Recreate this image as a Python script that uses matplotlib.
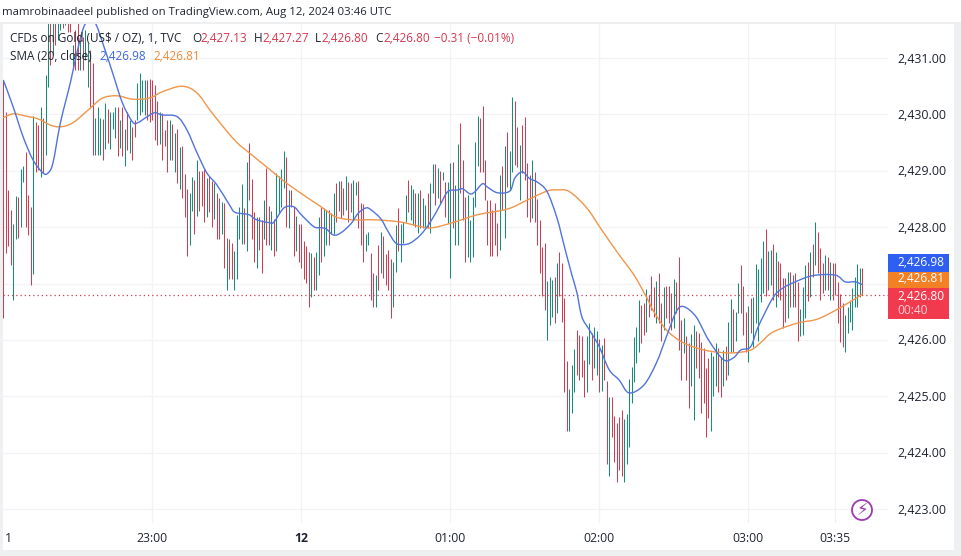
import matplotlib
matplotlib.use("Agg")
import matplotlib.pyplot as plt
from matplotlib.patches import Rectangle, Ellipse, PathPatch
from matplotlib.path import Path

W, H = 961, 556
FONT = "Open Sans"
plt.rcParams["font.family"] = [FONT, "DejaVu Sans"]

# ---- Data (minute bars; minute 0 = 22:00) ----
bar_high = [
2430.61,2430.04,2428.66,2428.31,2428.06,2428.55,2428.54,2429.03,2429.09,2429.34,
2428.57,2428.36,2429.97,2429.87,2429.81,2430.13,2429.94,2430.70,2431.70,2431.70,
2431.70,2431.70,2431.70,2431.70,2431.70,2431.70,2431.70,2431.70,2431.23,2431.50,
2431.70,2431.32,2431.37,2431.50,2431.27,2431.14,2430.91,2429.94,2430.13,2429.94,
2429.92,2430.20,2430.10,2430.04,2430.04,2430.13,2430.13,2429.90,2430.13,2429.74,
2430.04,2429.90,2429.78,2429.90,2430.56,2430.74,2430.61,2430.61,2430.61,2430.63,
2430.61,2430.52,2430.24,2430.04,2430.03,2429.72,2429.90,2429.90,2429.83,2429.67,
2429.74,2429.42,2429.44,2428.95,2428.68,2428.61,2428.89,2428.84,2429.19,2429.00,
2429.00,2429.03,2428.87,2428.91,2428.82,2428.79,2428.61,2428.52,2428.45,2428.43,
2427.81,2427.79,2427.72,2427.58,2428.22,2428.36,2428.77,2428.34,2429.16,2429.50,
2428.86,2428.27,2428.18,2428.18,2428.13,2428.48,2429.05,2428.38,2428.29,2428.15,
2428.96,2428.91,2429.03,2429.35,2429.25,2428.66,2428.66,2428.36,2428.20,2428.06,
2428.06,2427.76,2427.67,2427.56,2427.54,2427.47,2427.56,2428.18,2428.36,2428.34,
2428.31,2428.31,2428.25,2428.61,2428.79,2428.82,2428.82,2428.70,2428.91,2428.80,
2428.79,2428.84,2428.80,2428.82,2428.43,2428.41,2427.88,2427.92,2427.54,2427.19,
2427.15,2427.69,2427.92,2427.85,2427.53,2427.60,2427.44,2427.38,2428.04,2428.34,
2428.06,2428.09,2428.57,2428.84,2428.75,2428.68,2428.61,2428.61,2428.66,2428.52,
2428.40,2428.61,2428.79,2429.12,2429.12,2429.05,2429.00,2428.98,2428.80,2428.80,
2429.14,2429.16,2428.75,2429.48,2429.85,2429.19,2428.54,2428.57,2428.13,2428.54,
2429.51,2429.97,2429.94,2430.15,2429.19,2428.48,2428.48,2428.31,2428.43,2428.08,
2428.93,2429.09,2429.44,2429.69,2429.35,2430.31,2430.24,2429.78,2429.46,2429.81,
2429.96,2429.14,2428.93,2429.19,2428.98,2428.50,2428.13,2427.65,2427.72,2427.05,
2427.12,2427.07,2427.12,2427.37,2427.56,2427.37,2426.75,2425.63,2425.13,2425.56,
2425.84,2426.18,2426.09,2426.07,2425.65,2426.07,2426.30,2426.13,2426.23,2426.16,
2426.02,2425.91,2426.04,2425.27,2424.99,2424.99,2424.65,2424.53,2424.64,2424.76,
2424.60,2424.69,2425.31,2425.52,2426.05,2426.23,2426.71,2426.62,2426.66,2426.91,
2426.80,2427.14,2426.94,2427.05,2427.19,2426.66,2426.94,2426.96,2426.96,2426.83,
2427.08,2427.03,2427.47,2426.36,2426.39,2426.07,2425.95,2426.11,2426.27,2426.16,
2426.13,2425.97,2425.86,2425.51,2425.68,2425.79,2425.72,2425.95,2425.86,2425.70,
2425.82,2425.90,2426.32,2426.73,2426.55,2426.50,2427.01,2427.33,2426.96,2426.50,
2426.60,2426.75,2426.76,2427.35,2427.26,2427.46,2427.76,2427.97,2427.58,2427.60,
2427.70,2427.56,2427.40,2427.37,2427.10,2427.10,2427.21,2427.21,2427.15,2427.19,
2427.03,2426.55,2426.94,2427.33,2427.38,2427.56,2427.70,2428.09,2427.92,2427.63,
2427.37,2427.51,2427.47,2427.38,2427.37,2427.37,2427.03,2426.82,2426.66,2426.45,
2426.59,2426.71,2426.92,2427.12,2427.35,2427.28,2427.27]
bar_low = [
2426.39,2427.54,2427.67,2427.33,2426.71,2427.79,2427.81,2428.01,2428.80,2428.01,
2427.86,2426.98,2427.17,2428.98,2429.02,2428.89,2428.96,2429.28,2430.49,2430.88,
2431.05,2431.23,2431.32,2431.50,2431.53,2431.59,2431.46,2431.46,2430.82,2430.79,
2430.79,2430.79,2430.79,2430.97,2430.49,2430.11,2429.28,2429.28,2429.28,2429.28,
2429.19,2429.39,2429.50,2429.39,2429.74,2429.58,2429.26,2429.41,2429.26,2429.09,
2429.37,2429.32,2429.19,2429.60,2429.90,2429.99,2430.04,2429.99,2429.90,2429.87,
2429.90,2429.55,2429.46,2429.48,2429.19,2429.44,2428.98,2429.19,2429.19,2428.98,
2428.79,2428.68,2428.52,2428.18,2427.49,2427.69,2428.29,2427.88,2428.20,2428.29,
2428.38,2428.09,2428.18,2428.27,2428.01,2428.15,2427.79,2427.79,2427.88,2427.28,
2426.89,2427.08,2427.08,2426.89,2427.08,2427.79,2427.70,2427.70,2427.58,2428.48,
2427.79,2427.38,2427.28,2427.60,2427.19,2427.79,2427.69,2427.69,2427.60,2427.49,
2427.58,2428.25,2428.36,2428.70,2428.01,2427.99,2428.36,2427.49,2427.58,2427.38,
2427.28,2427.08,2427.01,2426.59,2426.76,2426.89,2426.89,2427.15,2427.38,2427.49,
2427.69,2427.69,2427.88,2427.88,2428.09,2428.29,2428.16,2428.22,2428.31,2428.09,
2428.27,2428.13,2428.57,2427.99,2427.69,2427.38,2427.58,2427.69,2426.71,2426.59,
2426.59,2426.89,2427.19,2427.10,2426.98,2426.89,2426.39,2426.59,2427.21,2427.58,
2427.38,2427.72,2428.09,2428.27,2428.13,2428.04,2428.01,2427.90,2427.99,2427.99,
2427.99,2427.99,2427.90,2428.61,2428.40,2428.52,2428.43,2428.84,2428.18,2428.08,
2427.10,2427.99,2427.69,2427.69,2428.61,2428.13,2427.38,2427.47,2427.38,2427.47,
2428.36,2429.09,2428.98,2428.98,2428.48,2427.69,2427.49,2427.49,2427.69,2427.49,
2427.60,2428.31,2427.81,2428.71,2428.66,2428.98,2429.10,2429.07,2428.48,2428.96,
2428.84,2428.18,2428.09,2428.16,2428.09,2427.69,2427.19,2426.78,2426.53,2426.00,
2426.27,2426.41,2426.30,2426.48,2426.78,2426.32,2425.08,2424.39,2424.39,2424.71,
2425.08,2425.38,2425.29,2425.35,2424.99,2425.08,2425.58,2425.29,2425.51,2425.38,
2425.08,2425.10,2425.29,2423.79,2423.59,2424.28,2423.84,2423.48,2423.70,2423.59,
2423.48,2423.79,2424.10,2424.88,2425.26,2425.59,2425.79,2425.95,2426.09,2426.14,
2426.41,2426.53,2426.41,2426.30,2426.30,2425.98,2426.18,2426.39,2426.30,2426.18,
2426.21,2426.48,2425.82,2425.29,2425.77,2425.29,2424.80,2425.19,2424.58,2425.51,
2425.33,2424.71,2424.88,2424.27,2424.62,2424.39,2425.01,2425.19,2425.08,2424.99,
2425.19,2425.29,2425.38,2425.79,2425.79,2425.98,2426.48,2426.48,2426.09,2425.79,
2425.61,2426.13,2425.88,2426.30,2425.98,2426.68,2426.83,2426.78,2426.89,2426.98,
2426.71,2426.59,2426.76,2426.71,2426.21,2426.32,2426.39,2426.59,2426.59,2426.59,
2425.98,2426.07,2426.09,2426.39,2426.69,2426.76,2427.12,2427.33,2427.19,2426.71,
2426.83,2426.89,2426.89,2426.71,2426.71,2426.80,2426.30,2425.97,2425.88,2425.79,
2426.13,2426.32,2426.18,2426.59,2426.59,2426.76,2426.80]
bar_dir = (
"rrrrggrggr" "rrgrrgrggr" "grggrgrrgr" "rgrggrrggg" "rgrgggrgrg"
"rgrrggggrr" "rrrgrrrgrg" "rgrrrggrgr" "rrgrrgrrgr" "grrggggrgr"
"rrgrrgrrgr" "ggggrgrrgr" "rrrrgrggrg" "grggrgrrgr" "rggrrrggrr"
"grgrrrrggr" "gggrggrgrg" "grggrgrgrg" "grggrrrggg" "ggrrrrrrrr"
"grgrggrrgr" "rrrgrrrrrg" "ggrgrrrrgg" "grrrrggrgg" "rgrrgrrrrr"
"gggggggrrg" "rrrgrrgrrr" "grrrgrrggr" "rrrrrgggrr" "grggrggrrr"
"grgggggrgg" "rgrrrrgrgr" "rgggrgrgrr" "rgrgrrrrrg" "ggggggr")

sma_minute = [0,4,8,12,16,18,20,23,27,29,32,34,37,40,44,48,52,54,58,61,64,70,74,78,82,86,91,93,96,99,
102,107,109,113,117,120,125,128,130,133,136,140,143,146,148,152,155,158,161,164,168,172,176,179,183,185,188,190,193,195,
199,204,206,209,212,215,219,223,226,229,231,233,236,240,244,248,252,258,263,267,271,274,279,284,290,294,297,301,304,310,
314,319,326,335,339,343,346]
sma_value = [2430.61,2430.13,2429.60,2429.19,2428.96,2428.96,2429.14,2429.85,2430.56,2430.97,2431.50,2431.64,2431.62,2431.27,2430.74,2430.20,2429.87,2429.85,2429.96,2430.03,
2429.99,2429.96,2429.72,2429.32,2428.96,2428.75,2428.40,2428.27,2428.24,2428.22,2428.13,2428.08,2428.09,2428.34,2428.36,2428.22,2428.01,2427.99,2427.97,2427.86,
2427.90,2428.06,2428.25,2428.34,2428.31,2428.15,2427.92,2427.72,2427.69,2427.72,2427.86,2428.09,2428.40,2428.63,2428.66,2428.68,2428.59,2428.63,2428.77,2428.71,
2428.61,2428.64,2428.87,2428.98,2428.86,2428.80,2428.63,2428.16,2427.65,2427.15,2426.84,2426.41,2426.18,2425.88,2425.47,2425.29,2425.06,2425.20,2425.59,2426.05,
2426.50,2426.59,2426.41,2426.00,2425.65,2425.68,2425.82,2425.88,2426.23,2426.75,2426.92,2427.03,2427.14,2427.15,2427.03,2427.03,2426.98]

smooth_minute = [0,4,9,14,19,23,28,35,40,46,52,59,64,72,78,84,93,99,106,115,128,134,141,150,160,168,173,181,191,203,
211,219,223,228,235,241,248,254,259,262,267,273,279,286,294,301,305,310,320,328,337,346]
smooth_value = [2429.94,2430.01,2429.97,2429.92,2429.81,2429.78,2429.85,2430.11,2430.29,2430.33,2430.27,2430.29,2430.40,2430.50,2430.38,2430.03,2429.55,2429.32,2429.07,2428.75,
2428.36,2428.18,2428.13,2428.13,2428.09,2428.01,2427.99,2428.08,2428.22,2428.32,2428.48,2428.64,2428.66,2428.63,2428.34,2427.95,2427.51,2427.15,2426.76,2426.50,
2426.18,2425.97,2425.86,2425.79,2425.77,2425.82,2425.95,2426.14,2426.30,2426.37,2426.57,2426.81]

price_ticks = [2431,2430,2429,2428,2427,2426,2425,2424,2423]
hidden_price_label = 2427
time_ticks = [60,120,180,240,300,335]
time_labels = ["23:00","12","01:00","02:00","03:00","03:35"]
last_price = 2426.80

RED = "#cb3f54"; GREEN = "#1c8a78"; BLUE = "#4f74dc"; ORANGE = "#f0964a"
GRID = "#f1f3f7"; BORDER = "#eff0f2"; TXT = "#1f2430"

fig = plt.figure(figsize=(W/100, H/100), dpi=100, facecolor=BORDER)

def fx(px): return px / W
def fy(py): return 1 - py / H
def txt(px, py, s, color=TXT, size=8.5, ha="left", weight="normal"):
    fig.text(fx(px), fy(py + 1), s, color=color, fontsize=size, ha=ha, va="center", fontweight=weight, zorder=8)

def smooth_path(xs, ys):
    """Catmull-Rom curve through the read points, as cubic Bezier segments."""
    verts = [(xs[0], ys[0])]
    codes = [Path.MOVETO]
    n = len(xs)
    for k in range(n - 1):
        a, b = max(k - 1, 0), min(k + 2, n - 1)
        verts.append((xs[k] + (xs[k+1] - xs[a]) / 6, ys[k] + (ys[k+1] - ys[a]) / 6))
        verts.append((xs[k+1] - (xs[b] - xs[k]) / 6, ys[k+1] - (ys[b] - ys[k]) / 6))
        verts.append((xs[k+1], ys[k+1]))
        codes += [Path.CURVE4] * 3
    return Path(verts, codes)

# white panes behind everything
fig.patches.append(Rectangle((0, fy(22)), 1, 22/H, transform=fig.transFigure, fc="white", ec="none", zorder=-2))
fig.patches.append(Rectangle((fx(3), fy(550)), 951/W, 526/H, transform=fig.transFigure, fc="white", ec="none", zorder=-2))

L, R, T, B = 3, 888, 24, 523
ax = fig.add_axes([fx(L), fy(B), (R-L)/W, (B-T)/H], facecolor="none")
ax.set_xlim(-0.12, 356.3)
ax.set_ylim(2432.029 - B*8/451, 2432.029 - T*8/451)
for s in ax.spines.values():
    s.set_visible(False)
ax.tick_params(length=0, labelleft=False, labelbottom=False)
ax.set_xticks(time_ticks)
ax.set_yticks(price_ticks)
ax.grid(True, color=GRID, lw=0.9, zorder=0)
ax.set_axisbelow(True)

minutes = list(range(len(bar_high)))
ax.vlines([m for m in minutes if bar_dir[m] == "r"],
          [bar_low[m] for m in minutes if bar_dir[m] == "r"],
          [bar_high[m] for m in minutes if bar_dir[m] == "r"], color=RED, lw=0.75, zorder=2)
ax.vlines([m for m in minutes if bar_dir[m] == "g"],
          [bar_low[m] for m in minutes if bar_dir[m] == "g"],
          [bar_high[m] for m in minutes if bar_dir[m] == "g"], color=GREEN, lw=0.75, zorder=2)
ax.axhline(last_price, color=RED, lw=0.9, ls=(0, (1, 2.4)), zorder=3)
ax.add_patch(PathPatch(smooth_path(smooth_minute, smooth_value), fill=False, ec=ORANGE, lw=1.0, zorder=4))
ax.add_patch(PathPatch(smooth_path(sma_minute, sma_value), fill=False, ec=BLUE, lw=1.0, zorder=5))

# header
txt(2, 11, "mamrobinaadeel published on TradingView.com, Aug 12, 2024 03:46 UTC", size=8.2)

# legend
txt(10, 37, "CFDs on Gold (US$ / OZ), 1, TVC", size=8.5)
for px, lab, val in [(192, "O", "2,427.13"), (254, "H", "2,427.27"), (315, "L", "2,426.80"), (375, "C", "2,426.80")]:
    txt(px, 37, lab, size=8.5)
    txt(px + (8 if lab != "L" else 6), 37, val, color="#d7364c", size=8.5)
txt(434, 37, "\u22120.31 (\u22120.01%)", color="#d7364c", size=8.5)
txt(10, 55, "SMA (20, close)", size=8.5)
txt(99, 55, "2,426.98", color="#3f66dc", size=8.5)
txt(153, 55, "2,426.81", color="#ef8a35", size=8.5)

# price axis
y_of = lambda p: 2432.029*451/8 - p*451/8
for p in price_ticks:
    if p != hidden_price_label:
        txt(897, y_of(p), f"{p:,.2f}", size=8.9)

# last-value tags
for top, bot, col in [(254, 272, "#2e5ff0"), (272, 288, "#f28024"), (288, 319, "#f23a4e")]:
    fig.patches.append(Rectangle((fx(888), fy(bot)), 61/W, (bot-top)/H,
                                 transform=fig.transFigure, fc=col, ec="none", zorder=2))
txt(897, 261.5, "2,426.98", color="white", size=8.6)
txt(897, 278, "2,426.81", color="white", size=8.6)
txt(897, 295, "2,426.80", color="white", size=8.6)
txt(897, 309, "00:40", color="#fbd2d7", size=8.6)

# time axis
txt(5, 537, "1", size=8.8)
for m, lab in zip(time_ticks, time_labels):
    px = L + (m + 0.12) * (R - L) / 356.42
    txt(px, 537, lab, size=8.8, ha="center", weight="bold" if lab == "12" else "normal")

# bolt badge
fig.patches.append(Ellipse((fx(862), fy(510)), 20/W, 20/H, transform=fig.transFigure,
                           fc="white", ec="#9c39b0", lw=1.3, zorder=2))
fig.text(fx(862), fy(510), "\u26a1", color="#9c39b0", fontsize=12, ha="center", va="center",
         family="DejaVu Sans", zorder=8)

assert len(bar_high) == len(bar_low) == len(bar_dir)
fig.savefig("out.png", dpi=100, facecolor=fig.get_facecolor())
